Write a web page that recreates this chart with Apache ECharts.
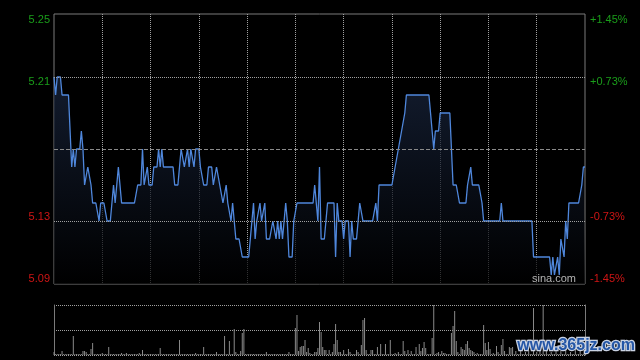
<!DOCTYPE html>
<html><head><meta charset="utf-8">
<script src="https://cdn.jsdelivr.net/npm/echarts/dist/echarts.min.js"></script>
<style>html,body{margin:0;padding:0;background:#000;}#c{width:640px;height:360px;}</style>
</head><body><div id="c"></div>
<script>
// ---- data ----
const prevClose = 5.17;
const yMin = 5.095, yMax = 5.245, yStep = 0.0375;
const leftTickLabels = ['5.09', '5.13', '', '5.21', '5.25'];
const rightTickLabels = ['-1.45%', '-0.73%', '', '+0.73%', '+1.45%'];

const prices = [
5.21,5.20,5.21,5.21,5.21,5.20,5.20,5.20,5.20,5.20,
5.20,5.16,5.17,5.16,5.17,5.17,5.17,5.18,5.17,5.15,
5.15,5.16,5.16,5.15,5.14,5.14,5.14,5.14,5.13,5.14,
5.14,5.14,5.14,5.13,5.13,5.13,5.13,5.15,5.14,5.14,
5.16,5.15,5.14,5.14,5.14,5.14,5.14,5.14,5.14,5.14,
5.14,5.14,5.15,5.15,5.15,5.17,5.15,5.15,5.16,5.15,
5.15,5.15,5.16,5.16,5.16,5.17,5.16,5.17,5.16,5.16,
5.16,5.16,5.16,5.16,5.16,5.15,5.15,5.15,5.16,5.17,
5.17,5.16,5.16,5.17,5.16,5.17,5.17,5.16,5.17,5.17,
5.17,5.16,5.16,5.15,5.15,5.15,5.16,5.16,5.16,5.15,
5.15,5.16,5.16,5.15,5.15,5.14,5.14,5.15,5.14,5.14,
5.13,5.14,5.13,5.12,5.12,5.12,5.12,5.11,5.11,5.11,
5.11,5.11,5.12,5.12,5.14,5.12,5.13,5.13,5.14,5.13,
5.13,5.14,5.12,5.12,5.12,5.12,5.13,5.13,5.12,5.13,
5.12,5.13,5.12,5.12,5.14,5.13,5.11,5.11,5.11,5.13,
5.13,5.14,5.14,5.14,5.14,5.14,5.14,5.14,5.14,5.14,
5.14,5.14,5.15,5.15,5.13,5.16,5.12,5.12,5.12,5.13,
5.14,5.14,5.14,5.14,5.14,5.11,5.14,5.13,5.13,5.13,
5.12,5.13,5.13,5.13,5.11,5.13,5.12,5.12,5.12,5.13,
5.14,5.14,5.13,5.13,5.13,5.13,5.13,5.13,5.13,5.13,
5.14,5.13,5.15,5.15,5.15,5.15,5.15,5.15,5.15,5.15,
5.15,5.15,5.16,5.16,5.17,5.17,5.18,5.18,5.19,5.20,
5.20,5.20,5.20,5.20,5.20,5.20,5.20,5.20,5.20,5.20,
5.20,5.20,5.20,5.20,5.19,5.18,5.17,5.18,5.18,5.18,
5.19,5.19,5.19,5.19,5.19,5.19,5.19,5.19,5.15,5.15,
5.15,5.15,5.14,5.14,5.14,5.14,5.14,5.15,5.15,5.16,
5.15,5.15,5.15,5.15,5.15,5.15,5.14,5.13,5.13,5.13,
5.13,5.13,5.13,5.13,5.13,5.13,5.13,5.13,5.14,5.13,
5.13,5.13,5.13,5.13,5.13,5.13,5.13,5.13,5.13,5.13,
5.13,5.13,5.13,5.13,5.13,5.13,5.13,5.13,5.11,5.11,
5.11,5.11,5.11,5.11,5.11,5.11,5.11,5.11,5.11,5.10,
5.11,5.10,5.10,5.11,5.10,5.12,5.12,5.11,5.13,5.12,
5.14,5.14,5.14,5.14,5.14,5.14,5.14,5.14,5.15,5.16,
5.16
];

const volumes = [
3,1,1,1,1,4,1,1,1,1,
1,1,19,1,1,1,1,1,4,4,
3,1,1,6,12,1,1,1,1,1,
2,1,1,1,8,1,1,1,1,1,
1,1,2,1,1,2,1,1,1,1,
1,1,1,2,1,5,1,1,1,1,
1,1,1,1,1,1,7,1,1,1,
1,1,1,1,1,1,1,1,15,1,
1,1,1,1,1,1,1,1,2,1,
1,1,1,8,1,1,1,1,1,1,
1,3,1,1,1,1,19,1,1,14,
1,1,26,3,1,1,4,22,26,1,
1,1,1,1,1,1,1,1,1,1,
1,1,3,1,1,1,1,1,1,1,
1,1,1,1,1,1,3,1,1,1,
27,40,4,8,9,9,15,3,7,2,
1,1,3,3,7,33,23,8,5,5,
1,5,1,3,11,31,15,3,3,1,
5,1,1,6,3,1,1,1,5,3,
1,10,35,37,5,1,1,5,5,1,
1,8,1,11,1,1,11,1,1,15,
1,1,2,1,3,1,1,14,4,1,
5,1,4,1,1,8,1,11,4,7,
13,7,1,1,1,17,50,1,2,3,
1,4,2,2,1,1,1,22,29,44,
14,3,1,8,6,5,11,14,7,5,
4,3,1,2,1,1,1,30,12,5,
13,6,1,2,1,9,3,1,10,16,
4,1,1,8,7,8,1,4,1,1,
6,1,1,3,1,5,1,1,47,1,
3,1,4,1,50,1,5,1,1,3,
1,1,6,1,1,4,1,1,5,1,
1,3,1,1,6,1,1,4,1,1,
5
];

// minute categories (HK session 09:30-12:00, 13:01-16:00)
const times = [];
function hm(m){const h=Math.floor(m/60),mm=m%60;return (h<10?'0':'')+h+':'+(mm<10?'0':'')+mm;}
for (let m = 9*60+30; m <= 12*60; m++) times.push(hm(m));
for (let m = 13*60+1; m <= 16*60; m++) times.push(hm(m));

const volMax = Math.max.apply(null, volumes);

// ---- chart ----
const chart = echarts.init(document.getElementById('c'), null, {renderer: 'canvas'});
const FONT = 'Liberation Sans, Arial, sans-serif';
const GREEN = '#1a9e1a', RED = '#d01515';
function tickIdx(v){ return Math.round((v - yMin) / yStep); }
function labelColor(v){
  const i = tickIdx(Number(v));
  return i > 2 ? GREEN : (i < 2 ? RED : 'transparent');
}
const dotted = {type: [1, 1], color: '#a0a0a0', width: 1};

chart.setOption({
  backgroundColor: '#000',
  animation: false,
  grid: [
    {left: 54, top: 14, width: 531, height: 270, show: true, borderColor: '#7a7a7a', borderWidth: 1, backgroundColor: 'transparent'},
    {left: 54, top: 305, width: 531, height: 50}
  ],
  xAxis: [
    {type: 'category', gridIndex: 0, data: times, boundaryGap: false,
     axisLine: {show: false}, axisTick: {show: false}, axisLabel: {show: false},
     splitLine: {show: true, interval: function(i){ return i % 30 === 0 && i > 0 && i < times.length - 1; }, lineStyle: dotted}},
    {type: 'category', gridIndex: 1, data: times, boundaryGap: false,
     axisLine: {show: false}, axisTick: {show: false}, axisLabel: {show: false}, splitLine: {show: false}}
  ],
  yAxis: [
    {type: 'value', gridIndex: 0, position: 'left', min: yMin, max: yMax, interval: yStep,
     axisLine: {show: false}, axisTick: {show: false}, splitLine: {show: false},
     axisLabel: {show: true, margin: 4, fontSize: 11, fontFamily: FONT,
       verticalAlignMinLabel: 'bottom', verticalAlignMaxLabel: 'top',
       formatter: function(v){ return leftTickLabels[tickIdx(v)] || ''; },
       color: function(v){ return labelColor(v); }}},
    {type: 'value', gridIndex: 0, position: 'right', min: yMin, max: yMax, interval: yStep,
     axisLine: {show: false}, axisTick: {show: false}, splitLine: {show: false},
     axisLabel: {show: true, margin: 5, fontSize: 11, fontFamily: FONT,
       verticalAlignMinLabel: 'bottom', verticalAlignMaxLabel: 'top',
       formatter: function(v){ return rightTickLabels[tickIdx(v)] || ''; },
       color: function(v){ return labelColor(v); }}},
    {type: 'value', gridIndex: 1, position: 'left', min: 0, max: volMax, interval: volMax / 2,
     axisLine: {show: true, lineStyle: {color: '#7a7a7a', width: 1}}, axisTick: {show: false}, axisLabel: {show: false},
     splitLine: {show: true, lineStyle: dotted}},
    {type: 'value', gridIndex: 1, position: 'right', min: 0, max: volMax, interval: volMax / 2,
     axisLine: {show: true, lineStyle: {color: '#7a7a7a', width: 1}}, axisTick: {show: false}, axisLabel: {show: false},
     splitLine: {show: false}}
  ],
  series: [
    {type: 'line', xAxisIndex: 0, yAxisIndex: 0, data: prices, symbol: 'none', z: 3,
     lineStyle: {color: '#4f87dc', width: 1.3},
     areaStyle: {origin: 'start', color: new echarts.graphic.LinearGradient(0, 0, 0, 1, [
       {offset: 0, color: '#1a2741'}, {offset: 1, color: '#000000'}])},
     markLine: {silent: true, symbol: 'none', label: {show: false}, animation: false,
       data: [
         {yAxis: prevClose + yStep, lineStyle: dotted},
         {yAxis: prevClose - yStep, lineStyle: dotted},
         {yAxis: prevClose, lineStyle: {type: [4, 2], color: '#8a8a8a', width: 1}}
       ]}},
    {type: 'bar', xAxisIndex: 1, yAxisIndex: 2, data: volumes, barWidth: 1,
     itemStyle: {color: '#8a8a8a'}}
  ],
  graphic: [
    {type: 'text', left: 532, top: 273, z: 10,
     style: {text: 'sina.com', fill: '#b4b4b4', font: '11px ' + FONT}},
    {type: 'text', left: 516, top: 336, z: 20,
     style: {text: 'www.365jz.com', fill: '#2456a6', stroke: '#c9d2e2', lineWidth: 2.5,
       font: 'bold 16px ' + FONT}}
  ]
});
</script>
</body></html>
